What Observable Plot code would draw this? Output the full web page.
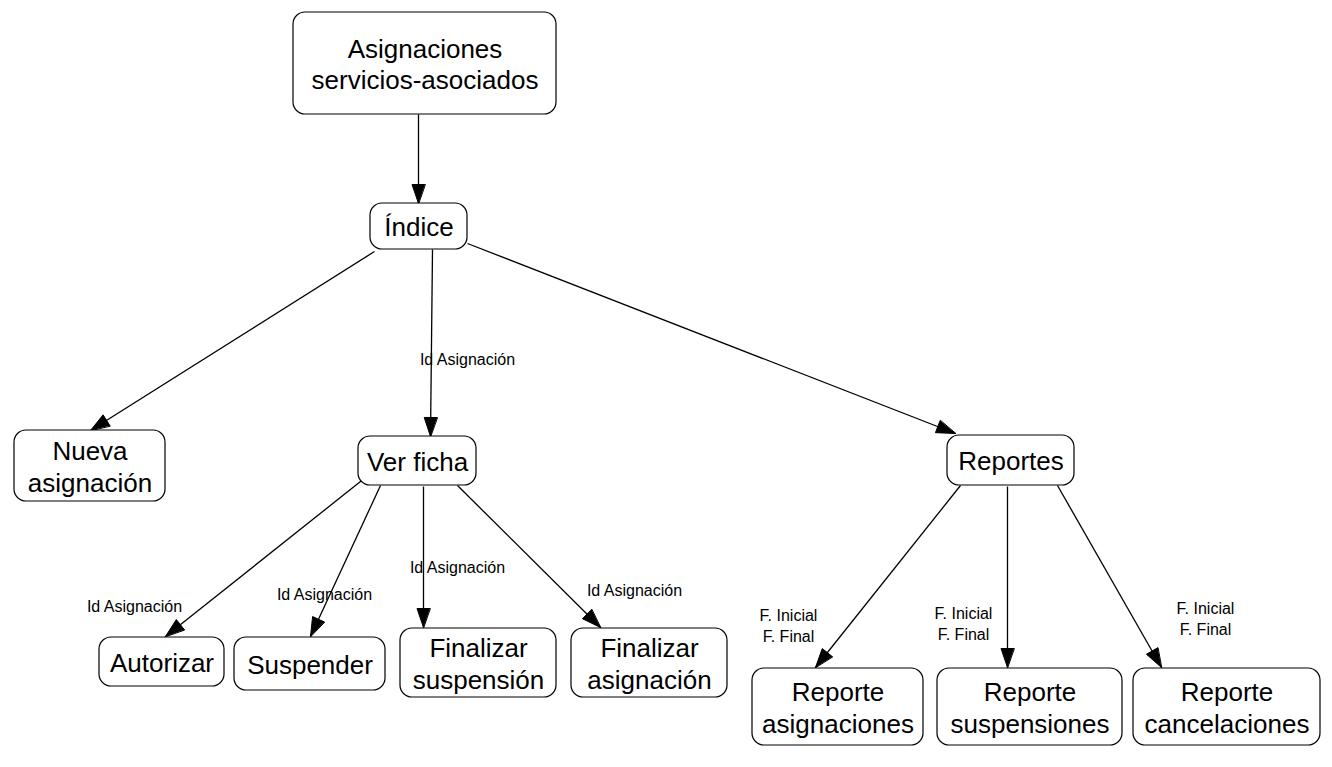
<!DOCTYPE html>
<html>
<head>
<meta charset="utf-8">
<script src="https://cdn.jsdelivr.net/npm/d3@7"></script>
<script src="https://cdn.jsdelivr.net/npm/@observablehq/plot@0.6"></script>
<style>
  body { margin: 0; background: #fff; }
</style>
</head>
<body>
<div id="chart"></div>
<script>
// nodes: label, box left/right/top/bottom (pixel coordinates of the diagram)
const nodeText = ["Asignaciones\nservicios-asociados", "Índice", "Nueva\nasignación", "Ver ficha", "Reportes",
  "Autorizar", "Suspender", "Finalizar\nsuspensión", "Finalizar\nasignación",
  "Reporte\nasignaciones", "Reporte\nsuspensiones", "Reporte\ncancelaciones"]
const nodeX1 = [293, 370, 14, 358, 947, 99, 234, 400, 571, 752, 937, 1133]
const nodeX2 = [556, 467, 165, 476, 1074, 224, 385, 556, 727, 923, 1122, 1320]
const nodeY1 = [12, 203, 430, 436, 435, 637, 637, 628, 628, 668, 668, 668]
const nodeY2 = [114, 249, 501, 485, 485, 686, 690, 697, 697, 745, 745, 745]

// edges: from point, to point, optional label and label position
const edgeX1 = [418, 374, 432, 467, 365, 380, 423, 457, 960, 1007, 1057]
const edgeY1 = [114, 251, 249, 243, 477, 485, 486, 485, 485, 486, 485]
const edgeX2 = [418, 90, 430, 955, 165, 310, 423, 600, 815, 1007, 1161]
const edgeY2 = [203, 430, 436, 433, 636, 636, 627, 627, 667, 667, 667]
const edgeLabel = ["", "", "Id Asignación", "", "Id Asignación", "Id Asignación", "Id Asignación", "Id Asignación",
  "F. Inicial\nF. Final", "F. Inicial\nF. Final", "F. Inicial\nF. Final"]
const labelX = [0, 0, 467, 0, 134, 324, 457, 634, 788, 963, 1205]
const labelY = [0, 0, 358, 0, 605, 593, 566, 589, 624, 622, 617]

const nodes = nodeText.map((t, i) => ({t, x1: nodeX1[i], x2: nodeX2[i], y1: nodeY1[i], y2: nodeY2[i]}))
const edges = edgeX1.map((x, i) => ({x1: x, y1: edgeY1[i], x2: edgeX2[i], y2: edgeY2[i], label: edgeLabel[i], lx: labelX[i], ly: labelY[i]}))

// filled arrow heads as small triangles
const heads = []
edges.forEach((e, i) => {
  const dx = e.x2 - e.x1, dy = e.y2 - e.y1, len = Math.hypot(dx, dy)
  const ux = dx / len, uy = dy / len, L = 19, W = 6.5
  const bx = e.x2 - L * ux, by = e.y2 - L * uy
  heads.push({id: i, x: e.x2, y: e.y2})
  heads.push({id: i, x: bx - W * uy, y: by + W * ux})
  heads.push({id: i, x: bx + W * uy, y: by - W * ux})
})

const chart = Plot.plot({
  width: 1332,
  height: 767,
  margin: 0,
  x: {domain: [0, 1332], axis: null},
  y: {domain: [0, 767], axis: null, reverse: true},
  style: {fontFamily: "Liberation Sans, Arial, sans-serif", background: "#fff"},
  marks: [
    Plot.link(edges, {x1: "x1", y1: "y1", x2: "x2", y2: "y2", stroke: "black", strokeWidth: 1.3}),
    Plot.line(heads, {x: "x", y: "y", z: "id", fill: "black", stroke: "black", strokeWidth: 1, curve: "linear-closed"}),
    Plot.rect(nodes, {x1: "x1", x2: "x2", y1: "y1", y2: "y2", rx: 12, fill: "white", stroke: "black", strokeWidth: 1.2}),
    Plot.text(nodes, {x: d => (d.x1 + d.x2) / 2, y: d => (d.y1 + d.y2) / 2, text: "t", fontSize: 26, lineHeight: 1.2, fill: "black"}),
    Plot.text(edges.filter(e => e.label), {x: "lx", y: "ly", text: "label", fontSize: 16, lineHeight: 1.3, fill: "black"})
  ]
})
document.getElementById("chart").append(chart)
</script>
</body>
</html>
